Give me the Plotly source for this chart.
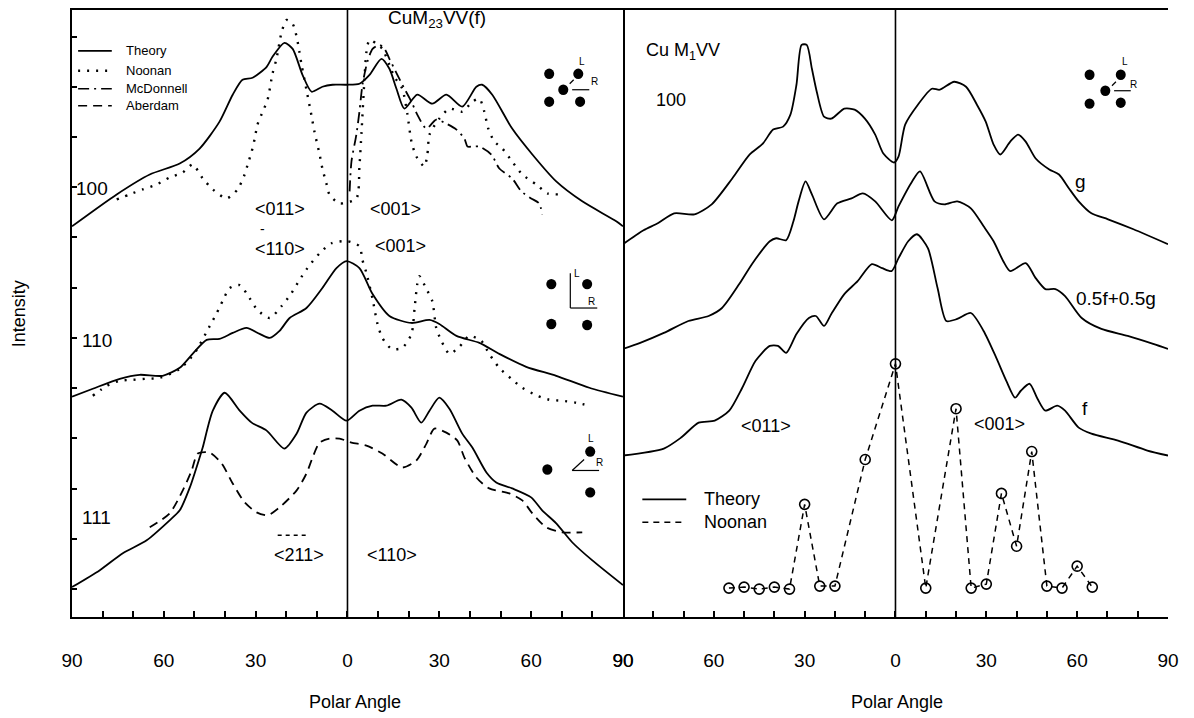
import plotly.graph_objects as go

# ---------------- data (polar angle in degrees, intensity in arbitrary units) ----------------
# Left panel: Cu M23VV(f)
l100_theory_ang = [-90, -75.4, -64.6, -54.8, -48.3, -41.8, -37.5, -34.3, -31.0, -26.4, -24.5, -20.6, -17.9, -14.7,
                   -11.7, -8.2, -4.9, -0.3, 3.9, 7.2, 11.1, 13.7, 16.0, 18.6, 22.8, 27.7, 32.3, 37.5, 42.1, 44.0,
                   47.3, 53.8, 60.4, 68.2, 76.7, 87.8, 90]
l100_theory_int = [392, 424, 444, 455, 470, 497, 524, 539, 541, 552, 562, 576, 570, 544,
                   527, 532, 534, 534, 535, 544, 560, 550, 530, 510, 524, 515, 524, 512, 532, 534,
                   524, 490, 464, 437, 417, 397, 392]

l100_noonan_ang = [-75.4, -71.1, -66.9, -62.3, -58.1, -53.8, -50.6, -47.3, -44.0, -39.5, -35.9, -33.6, -32.6, -31.3,
                   -30.3, -29.4, -27.7, -26.1, -24.5, -23.2, -21.5, -19.9, -17.9, -16.6, -15.7, -15.0, -13.4, -11.7,
                   -10.8, -9.1, -8.2, -6.9, -5.9, -2.6, 2.9, 3.9, 4.6, 5.5, 6.2, 7.2, 9.5, 11.4, 13.7, 15.3, 17.9,
                   19.6, 20.9, 22.5, 25.1, 26.1, 26.8, 30.0, 33.3, 37.5, 40.8, 43.1, 44.7, 46.0, 48.0, 50.6, 53.8,
                   57.1, 61.7, 65.3, 69.2]
l100_noonan_int = [419, 424, 429, 434, 441, 446, 454, 440, 429, 420, 429, 444, 454, 467,
                   480, 494, 507, 519, 545, 560, 587, 599, 595, 582, 567, 554, 529, 502,
                   487, 464, 450, 435, 424, 415, 420, 452, 487, 537, 567, 579, 575, 570, 554, 542, 530,
                   504, 477, 462, 452, 464, 484, 500, 510, 507, 517, 520, 507, 490, 477, 470, 457,
                   444, 434, 425, 424]

l100_mcdonnell_ang = [0.7, 1.3, 2.9, 3.9, 4.9, 6.5, 8.2, 10.4, 12.1, 13.7, 16.3, 18.6, 20.9, 22.8, 25.8, 29.0,
                      32.3, 35.6, 38.2, 39.2, 40.8, 43.1, 47.0, 49.6, 53.8, 56.8, 60.0, 62.6, 63.6]
l100_mcdonnell_int = [427, 457, 484, 507, 534, 557, 570, 574, 570, 560, 544, 530, 517, 504, 490, 499,
                      495, 489, 480, 472, 472, 472, 464, 450, 440, 427, 420, 415, 404]

l110_theory_ang = [-90, -83.2, -74.4, -67.9, -60.4, -54.8, -50.6, -46.0, -41.8, -37.5, -33.0, -28.7, -25.4, -22.2,
                   -18.9, -13.4, -8.2, -3.6, -0.3, 3.9, 8.2, 13.7, 20.9, 26.8, 30.0, 35.6, 43.1, 49.6, 58.4, 68.2,
                   79.0, 90]
l110_theory_int = [221, 229, 239, 243, 242, 250, 264, 278, 279, 285, 290, 284, 280, 287,
                   300, 310, 330, 350, 357, 350, 324, 302, 295, 298, 294, 282, 275, 264, 251, 242,
                   230, 221]

l110_noonan_ang = [-83.2, -78.6, -74.4, -70.1, -65.6, -61.3, -54.8, -49.9, -45.0, -42.7, -40.8, -38.5, -35.2,
                   -32.0, -29.4, -25.4, -21.5, -18.3, -15.7, -13.1, -9.1, -5.2, 0, 3.9, 4.9, 6.2, 8.2, 9.8, 11.4,
                   14.4, 17.9, 20.9, 21.9, 22.8, 23.5, 25.8, 27.7, 29.0, 30.7, 33.3, 36.5, 39.8, 43.7, 46.3, 49.6,
                   53.5, 57.1, 62.0, 65.9, 70.1, 74.7, 79.0]
l110_noonan_int = [222, 232, 237, 238, 239, 240, 249, 265, 292, 305, 317, 330, 333,
                   320, 308, 300, 312, 325, 338, 350, 365, 375, 377, 372, 358, 345, 319, 294, 280,
                   269, 270, 284, 309, 334, 342, 329, 317, 290, 277, 264, 271, 282, 277, 264, 250,
                   239, 230, 222, 218, 217, 215, 212]

l111_theory_ang = [-90, -80.9, -73.4, -65.6, -58.1, -54.8, -51.5, -48.3, -47.3, -44.0, -40.1, -35.2, -31.3, -26.4,
                   -20.6, -16.6, -13.4, -9.1, -4.9, -0.3, 3.9, 8.2, 12.7, 17.6, 20.9, 24.1, 26.8, 30.0, 33.3, 37.5,
                   40.8, 45.4, 48.6, 53.8, 60.0, 63.6, 68.2, 73.4, 79.9, 90]
l111_theory_int = [30, 47, 64, 77, 97, 107, 130, 160, 170, 207, 225, 207, 195, 187,
                   169, 184, 205, 214, 207, 197, 207, 212, 212, 218, 210, 195, 207, 220, 209, 184,
                   170, 145, 135, 129, 120, 107, 94, 75, 57, 32]

l111_aberdam_ang = [-64.6, -58.1, -53.8, -50.9, -48.9, -45.0, -41.1, -37.5, -33.6, -29.7, -26.1, -22.2, -16.6,
                    -13.4, -11.4, -9.1, -5.9, -2.6, 1.3, 6.2, 11.4, 17.9, 22.5, 25.8, 28.4, 32.3, 35.9, 38.2,
                    42.1, 46.3, 52.9, 57.1, 60.4, 64.9, 70.1, 76.7]
l111_aberdam_int = [90, 104, 127, 147, 164, 165, 154, 134, 115, 105, 102, 110, 127,
                    144, 160, 175, 179, 179, 175, 172, 164, 150, 157, 174, 189, 185, 177, 160,
                    140, 129, 124, 117, 104, 90, 85, 85]

# Right panel: Cu M1VV (100)
r_g_ang = [-90, -83.2, -78.5, -73.1, -66.4, -60.7, -53.9, -48.2, -43.8, -40.4, -37.1, -34.7, -32.7, -31.0,
           -29.3, -27.6, -26.0, -23.6, -21.2, -16.9, -13.5, -10.1, -6.7, -4.0, -0.5, 1.0, 3.2, 7.4, 12.0, 14.6,
           19.4, 23.3, 26.9, 29.8, 32.4, 34.6, 37.9, 40.5, 43.0, 46.3, 50.8, 54.0, 57.3, 60.5, 64.7, 70.2,
           78.6, 90]
r_g_int = [374, 388, 395, 405, 404, 414, 440, 464, 475, 489, 492, 504, 534, 574,
           574, 550, 527, 502, 500, 510, 509, 500, 484, 465, 456, 462, 494, 514, 530, 529,
           537, 532, 514, 497, 474, 464, 477, 484, 477, 460, 449, 444, 430, 417, 405, 399,
           389, 374]

r_mix_ang = [-90, -84.3, -76.5, -68.4, -61.7, -57.3, -51.6, -47.2, -41.5, -39.4, -36.1, -33.7, -32.0, -29.7,
             -27.6, -23.6, -19.2, -14.5, -10.8, -6.7, -1.2, 1.0, 5.5, 8.1, 12.9, 16.2, 20.4, 24.9, 29.1, 32.4,
             35.6, 37.9, 43.0, 46.3, 49.5, 52.8, 56.0, 61.5, 68.0, 76.7, 85.1, 90]
r_mix_int = [269, 275, 285, 297, 302, 310, 334, 355, 377, 380, 378, 397, 417, 437,
             424, 399, 415, 420, 425, 417, 398, 412, 437, 447, 417, 414, 417, 410, 392, 377,
             357, 347, 355, 340, 329, 329, 322, 300, 289, 282, 274, 269]

r_f_ang = [-90, -76.5, -70.8, -65.0, -59.7, -54.9, -50.6, -46.2, -41.5, -38.8, -36.1, -32.7, -28.6, -26.3,
           -23.6, -21.2, -16.9, -12.5, -7.8, -4.4, -1.3, 1.0, 4.2, 7.1, 10.7, 13.9, 16.8, 20.4, 24.9, 29.1,
           33.3, 36.6, 39.5, 41.4, 44.3, 46.9, 49.5, 53.4, 56.0, 60.5, 64.7, 73.5, 83.2, 90]
r_f_int = [162, 169, 180, 195, 197, 207, 230, 257, 272, 272, 265, 284, 300, 302,
           292, 304, 324, 337, 354, 350, 347, 360, 377, 384, 370, 330, 297, 299, 305, 287,
           260, 237, 220, 227, 234, 219, 207, 212, 207, 190, 184, 177, 167, 162]

r_noonan_ang = [-55, -50, -45, -40, -35, -30, -25, -20, -10, 0, 10, 20, 25, 30, 35, 40, 45, 50, 55, 60, 65]
r_noonan_int = [29, 30, 28, 30, 28, 113, 31, 31, 158, 254, 29, 209, 29, 33, 124, 71, 166, 31, 29, 51, 30]

tick_vals = [-90, -60, -30, 0, 30, 60, 90]
tick_text = ["90", "60", "30", "0", "30", "60", "90"]

# ---------------- figure ----------------
FONT = "Liberation Sans, Arial, Helvetica, sans-serif"
BLACK = "black"
fig = go.Figure()


def curve(xa, x, y, dash="solid", width=1.8, shape="spline"):
    fig.add_trace(go.Scatter(
        x=x, y=y, mode="lines", xaxis=xa, yaxis="y",
        line=dict(color=BLACK, width=width, dash=dash, shape=shape, smoothing=0.7),
        showlegend=False, hoverinfo="skip"))


DOT = "2px,7px"
DASHDOT = "11px,5px,2px,5px"
DASH = "9px,6px"

curve("x", l100_theory_ang, l100_theory_int)
curve("x", l100_noonan_ang, l100_noonan_int, dash=DOT, width=2.4)
curve("x", l100_mcdonnell_ang, l100_mcdonnell_int, dash=DASHDOT, width=1.8)
curve("x", l110_theory_ang, l110_theory_int)
curve("x", l110_noonan_ang, l110_noonan_int, dash=DOT, width=2.4)
curve("x", l111_theory_ang, l111_theory_int)
curve("x", l111_aberdam_ang, l111_aberdam_int, dash=DASH, width=1.8)

curve("x2", r_g_ang, r_g_int)
curve("x2", r_mix_ang, r_mix_int)
curve("x2", r_f_ang, r_f_int)
fig.add_trace(go.Scatter(
    x=r_noonan_ang, y=r_noonan_int, mode="lines+markers", xaxis="x2", yaxis="y",
    line=dict(color=BLACK, width=1.5, dash="6px,5px"),
    marker=dict(symbol="circle-open", size=10, color=BLACK, line=dict(width=1.6)),
    showlegend=False, hoverinfo="skip"))

shapes = []
annotations = []

# zero-angle vertical lines
for xr in ("x", "x2"):
    shapes.append(dict(type="line", xref=xr, yref="y", x0=0, x1=0, y0=0, y1=609,
                       line=dict(color=BLACK, width=1.6)))


def seg(xr, x0, y0, x1, y1, dash="solid", width=1.6):
    shapes.append(dict(type="line", xref=xr, yref="y", x0=x0, y0=y0, x1=x1, y1=y1,
                       line=dict(color=BLACK, width=width, dash=dash)))


def dot(xr, x, y, r=1.65):
    shapes.append(dict(type="circle", xref=xr, yref="y", x0=x - r, x1=x + r, y0=y - 5.2, y1=y + 5.2,
                       fillcolor=BLACK, line=dict(color=BLACK, width=0)))


def label(xr, x, y, text, size=19, xanchor="center"):
    annotations.append(dict(xref=xr, yref="y", x=x, y=y, text=text, showarrow=False,
                            xanchor=xanchor, yanchor="middle",
                            font=dict(family=FONT, size=size, color=BLACK)))


# left legend
for yy, txt, dsh, w in [(568, "Theory", "solid", 1.6), (548, "Noonan", DOT, 2.4),
                        (530, "McDonnell", DASHDOT, 1.6), (513, "Aberdam", DASH, 1.6)]:
    seg("x", -88, yy, -77, yy, dash=dsh, width=w)
    label("x", -73, yy, txt, size=13, xanchor="left")

# left panel labels
label("x", 29.4, 600, "CuM<sub>23</sub>VV(f)", size=19)
label("x", -83.5, 430, "100")
label("x", -81.9, 277, "110")
label("x", -81.9, 100, "111")
label("x", -22.2, 409, "&lt;011&gt;", size=18)
label("x", 15.7, 409, "&lt;001&gt;", size=18)
label("x", -22.2, 369, "&lt;110&gt;", size=18)
label("x", -27.7, 389, "-", size=14)
label("x", 17.3, 372, "&lt;001&gt;", size=18)
label("x", -15.7, 62, "&lt;211&gt;", size=18)
seg("x", -22.8, 82, -12.4, 82, dash="4px,4px", width=1.6)
label("x", 14.7, 62, "&lt;110&gt;", size=18)

# left panel atom diagrams
for (xx, yy) in [(65.9, 545), (75.4, 545), (70.5, 529), (65.9, 517), (76.0, 517)]:
    dot("x", xx, yy)
seg("x", 73.4, 529, 79.0, 529, width=1.2)
seg("x", 72.6, 535, 73.9, 539, width=1.2)
label("x", 76.7, 557, "L", size=10)
label("x", 80.6, 537, "R", size=10)

for (xx, yy) in [(66.6, 334), (78.3, 334), (66.6, 294), (78.3, 293)]:
    dot("x", xx, yy)
seg("x", 72.8, 345, 72.8, 310, width=1.2)
seg("x", 72.8, 310, 81.6, 310, width=1.2)
label("x", 74.9, 345, "L", size=10)
label("x", 79.6, 317, "R", size=10)

for (xx, yy) in [(65.3, 148), (79.3, 166), (79.3, 125)]:
    dot("x", xx, yy)
seg("x", 73.4, 147, 77.3, 158, width=1.2)
seg("x", 73.4, 147, 82.2, 147, width=1.2)
label("x", 79.6, 179, "L", size=10)
label("x", 82.2, 155, "R", size=10)

# right panel labels
label("x2", -83.2, 567, "Cu M<sub>1</sub>VV", size=18, xanchor="left")
label("x2", -79.9, 519, "100", size=18, xanchor="left")
label("x2", 61.2, 437, "g", size=19)
label("x2", 58.9, 320, "0.5f+0.5g", size=19, xanchor="left")
label("x2", 62.5, 209, "f", size=19)
label("x2", -42.8, 192, "&lt;011&gt;", size=18)
label("x2", 34.3, 194, "&lt;001&gt;", size=18)
seg("x2", -83.6, 118, -69.1, 118, width=1.6)
seg("x2", -83.6, 95, -69.1, 95, dash="6px,5px", width=1.6)
label("x2", -64.0, 118, "Theory", size=18, xanchor="left")
label("x2", -64.0, 95, "Noonan", size=18, xanchor="left")

for (xx, yy) in [(64.1, 544), (74.4, 544), (69.3, 528), (64.1, 515), (74.4, 516)]:
    dot("x2", xx, yy)
seg("x2", 72.2, 528, 77.7, 528, width=1.2)
seg("x2", 71.5, 533, 72.8, 537, width=1.2)
label("x2", 75.7, 557, "L", size=10)
label("x2", 78.6, 534, "R", size=10)

# axis titles (paper coords; plot area spans 609 px tall, 1096 px wide)
annotations.append(dict(xref="paper", yref="paper", x=0.258, y=-0.140, text="Polar Angle", showarrow=False,
                        xanchor="center", yanchor="middle", font=dict(family=FONT, size=18, color=BLACK)))
annotations.append(dict(xref="paper", yref="paper", x=0.753, y=-0.140, text="Polar Angle", showarrow=False,
                        xanchor="center", yanchor="middle", font=dict(family=FONT, size=18, color=BLACK)))
annotations.append(dict(xref="paper", yref="paper", x=-0.0485, y=0.50, text="Intensity", showarrow=False,
                        textangle=-90, xanchor="center", yanchor="middle",
                        font=dict(family=FONT, size=18, color=BLACK)))

xcommon = dict(range=[-90, 90], tickmode="array", tickvals=tick_vals, ticktext=tick_text,
               ticks="inside", ticklen=6, tickwidth=1.5, tickcolor=BLACK,
               minor=dict(ticks="inside", tick0=0, dtick=10, ticklen=6, tickwidth=1.5, tickcolor=BLACK),
               showline=True, linecolor=BLACK, linewidth=1.8, mirror=True,
               showgrid=False, zeroline=False, ticklabelstandoff=25,
               tickfont=dict(family=FONT, size=19, color=BLACK))

# The page body has an 8 px margin, so the figure is sized/offset to compensate.
fig.update_layout(
    width=1186, height=710,
    margin=dict(l=64, r=26, t=0, b=101),
    paper_bgcolor="white", plot_bgcolor="white",
    showlegend=False,
    xaxis=dict(domain=[0, 0.5027], anchor="y", **xcommon),
    xaxis2=dict(domain=[0.5027, 1], anchor="y2", **xcommon),
    yaxis=dict(domain=[0, 1], range=[0, 609], anchor="x", tickmode="linear", tick0=28, dtick=50.4,
               ticks="inside", ticklen=5, tickwidth=1.5, tickcolor=BLACK, showticklabels=False,
               showline=True, linecolor=BLACK, linewidth=1.8, mirror=True, showgrid=False, zeroline=False),
    yaxis2=dict(domain=[0, 1], range=[0, 609], anchor="x2", tickmode="linear", tick0=29, dtick=26.5,
                ticks="inside", ticklen=6, tickwidth=1.5, tickcolor=BLACK, showticklabels=False,
                showline=True, linecolor=BLACK, linewidth=1.8, mirror=True, showgrid=False, zeroline=False),
    shapes=shapes,
    annotations=annotations,
)

fig.write_html("out.html")
